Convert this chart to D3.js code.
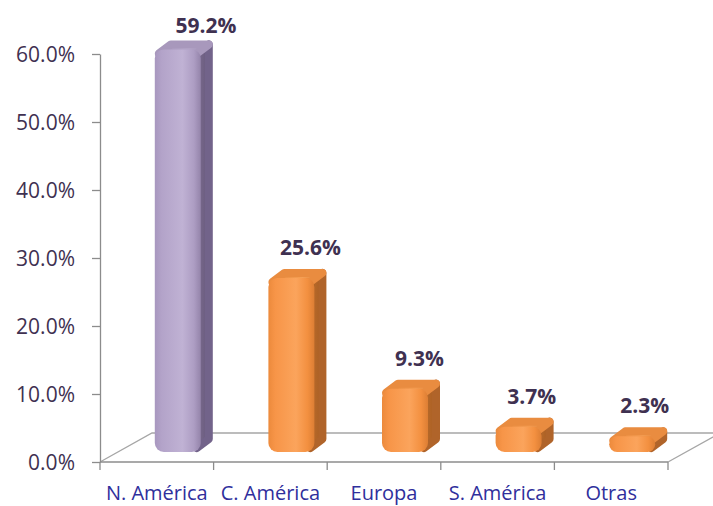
<!DOCTYPE html>
<html>
<head>
<meta charset="utf-8">
<script src="https://cdn.jsdelivr.net/npm/d3@7"></script>
<style>
  body { margin: 0; background: #fff; }
  .yLabel { font-family: "Open Sans", sans-serif; font-size: 21px; fill: #3f3151; }
  .xLabel { font-family: "Open Sans", sans-serif; font-size: 20px; fill: #2f2f9c; }
  .valLabel { font-family: "Open Sans", sans-serif; font-size: 21px; font-weight: bold; fill: #3f3151; }
</style>
</head>
<body>
<div class="chart"></div>
<script>
// data
let regions = ["N. América", "C. América", "Europa", "S. América", "Otras"];
let shares = [0.592, 0.256, 0.093, 0.037, 0.023];
let valueText = ["59.2%", "25.6%", "9.3%", "3.7%", "2.3%"];
let yTicks = [0, 0.1, 0.2, 0.3, 0.4, 0.5, 0.6];

let svgWidth = 713;
let svgHeight = 506;

let svg = d3.select(".chart")
  .append("svg")
  .attr("width", svgWidth)
  .attr("height", svgHeight);

let xScale = d3.scaleBand()
  .domain(regions)
  .range([100, 668])
  .padding(0);

let yScale = d3.scaleLinear()
  .domain([0, 0.6])
  .range([462, 54]);

// floor depth and bar depth
let floorDx = 52, floorDy = 29;
let barDx = 12, barDy = 9;
let barLift = 10;
let faceW = 46;

let defs = svg.append("defs");

function faceGradient(id, stops) {
  let g = defs.append("linearGradient").attr("id", id)
    .attr("x1", "0%").attr("x2", "100%").attr("y1", "0%").attr("y2", "0%");
  stops.forEach(s => g.append("stop").attr("offset", s[0]).attr("stop-color", s[1]));
}
faceGradient("purpleFace", [["0%", "#a897bf"], ["15%", "#b3a3c9"], ["60%", "#c0b2d4"], ["85%", "#ad9dc3"], ["100%", "#9484aa"]]);
faceGradient("purpleSide", [["0%", "#7d6d91"], ["100%", "#66587a"]]);
faceGradient("purpleTop", [["0%", "#a493b9"], ["60%", "#bcaed0"], ["100%", "#9686ab"]]);
faceGradient("orangeFace", [["0%", "#ec8a3c"], ["15%", "#f79548"], ["60%", "#fba45c"], ["85%", "#f39040"], ["100%", "#dc7e34"]]);
faceGradient("orangeSide", [["0%", "#bd6d2c"], ["100%", "#a65d22"]]);
faceGradient("orangeTop", [["0%", "#e6873a"], ["60%", "#f5a055"], ["100%", "#d97c33"]]);

// floor
let x0 = xScale.range()[0], x1 = xScale.range()[1], y0 = yScale(0);
svg.append("path")
  .attr("d", `M${x0},${y0} L${x0 + floorDx},${y0 - floorDy} L${x1 + floorDx},${y0 - floorDy} M${x1},${y0} L${x1 + floorDx},${y0 - floorDy}`)
  .attr("fill", "none")
  .attr("stroke", "#a6a6a6")
  .attr("stroke-width", 1.3);

// y axis
let yAxis = d3.axisLeft(yScale)
  .tickValues(yTicks)
  .tickFormat(d3.format(".1%"))
  .tickSize(8)
  .tickSizeOuter(0);

let yAxisG = svg.append("g")
  .attr("transform", `translate(${x0},0)`)
  .call(yAxis);
yAxisG.select(".domain").attr("stroke", "#8c8c8c").attr("stroke-width", 1.3);
yAxisG.selectAll(".tick line").attr("stroke", "#8c8c8c").attr("stroke-width", 1.3);
yAxisG.selectAll(".tick text")
  .attr("class", "yLabel")
  .attr("x", -25)
  .attr("dy", "0.36em")
  .attr("font-family", null)
  .attr("font-size", null)
  .attr("fill", null);
yAxisG.attr("font-family", null).attr("font-size", null);

// x axis baseline and boundary ticks
svg.append("line")
  .attr("x1", x0).attr("x2", x1)
  .attr("y1", y0).attr("y2", y0)
  .attr("stroke", "#8c8c8c").attr("stroke-width", 1.3);

let bounds = regions.map(r => xScale(r)).concat([x1]);
svg.selectAll(".xTick")
  .data(bounds)
  .enter()
  .append("line")
  .attr("class", "xTick")
  .attr("x1", d => d).attr("x2", d => d)
  .attr("y1", y0).attr("y2", y0 + 8)
  .attr("stroke", "#8c8c8c").attr("stroke-width", 1.3);

svg.selectAll(".xLabel")
  .data(regions)
  .enter()
  .append("text")
  .attr("class", "xLabel")
  .attr("x", d => xScale(d) + xScale.bandwidth() / 2)
  .attr("y", y0 + 38)
  .attr("text-anchor", "middle")
  .text(d => d);

// bars
let bars = regions.map((r, i) => {
  let cx = xScale(r) + xScale.bandwidth() / 2;
  let h = y0 - yScale(shares[i]);
  let yB = y0 - barLift;
  return {
    i: i,
    left: cx - 2,
    right: cx - 2 + faceW,
    yB: yB,
    yT: yB - h,
    h: h,
    purple: i === 0
  };
});

let barG = svg.selectAll(".bar")
  .data(bars)
  .enter()
  .append("g")
  .attr("class", "bar");

// side
barG.append("path")
  .attr("d", d => `M${d.right - 4},${d.yT + 4} L${d.right + barDx - 4},${d.yT - barDy + 4} L${d.right + barDx - 4},${d.yB - barDy - 4} L${d.right - 4},${d.yB - 4} Z`)
  .attr("fill", d => d.purple ? "url(#purpleSide)" : "url(#orangeSide)")
  .attr("stroke", d => d.purple ? "#72638a" : "#b0642a")
  .attr("stroke-width", 8)
  .attr("stroke-linejoin", "round");

// top
barG.append("path")
  .attr("d", d => `M${d.left + 4},${d.yT + 4} L${d.left + barDx + 4},${d.yT - barDy + 4} L${d.right + barDx - 4},${d.yT - barDy + 4} L${d.right - 4},${d.yT + 4} Z`)
  .attr("fill", d => d.purple ? "url(#purpleTop)" : "url(#orangeTop)")
  .attr("stroke", d => d.purple ? "#a898bc" : "#e98c40")
  .attr("stroke-width", 8)
  .attr("stroke-linejoin", "round");

// front
barG.append("rect")
  .attr("x", d => d.left)
  .attr("y", d => d.yT)
  .attr("width", faceW)
  .attr("height", d => d.h)
  .attr("rx", d => Math.min(9, d.h / 2))
  .attr("fill", d => d.purple ? "url(#purpleFace)" : "url(#orangeFace)");

// value labels
svg.selectAll(".valLabel")
  .data(bars)
  .enter()
  .append("text")
  .attr("class", "valLabel")
  .attr("text-anchor", "middle")
  .attr("x", d => d.left + 35 + 0.04 * d.h)
  .attr("y", d => Math.max(33, d.yT - barDy - 14))
  .text(d => valueText[d.i]);
</script>
</body>
</html>
